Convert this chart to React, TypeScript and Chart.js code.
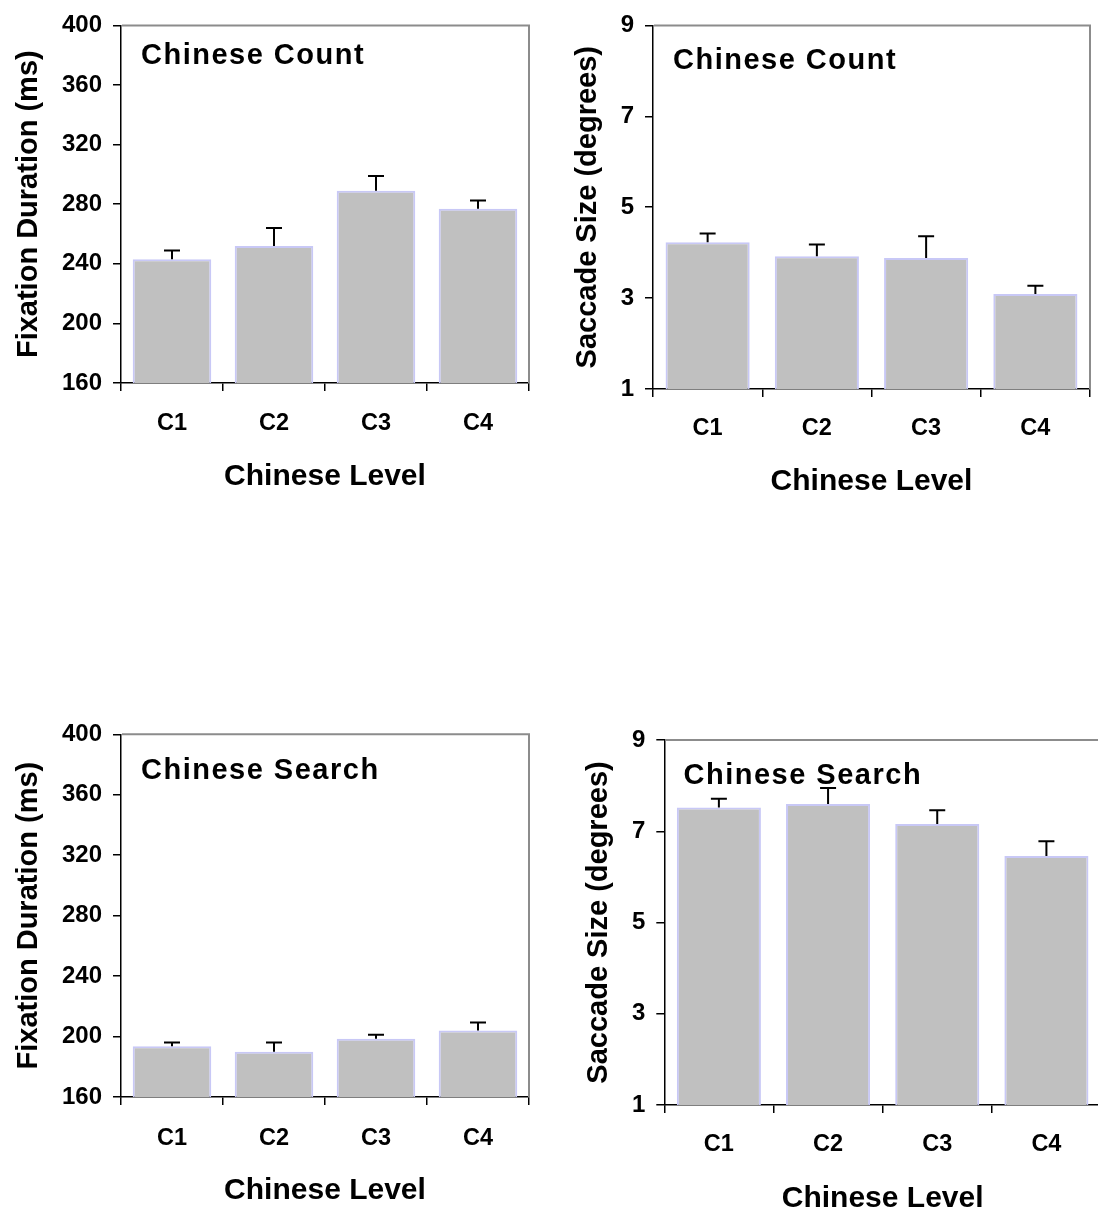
import React, { useEffect, useRef } from 'react';
import { Chart, registerables } from 'chart.js';

Chart.register(...registerables);

// ---------- data ----------
const categories = ['C1', 'C2', 'C3', 'C4'];

const countFixation = [243, 252, 289, 277];
const countFixationErr = [6, 12, 10, 5.5];

const countSaccade = [4.23, 3.92, 3.88, 3.09];
const countSaccadeErr = [0.19, 0.26, 0.48, 0.18];

const searchFixation = [193.5, 190, 198.5, 204];
const searchFixationErr = [2.5, 6, 2.7, 5.3];

const searchSaccade = [7.52, 7.6, 7.16, 6.46];
const searchSaccadeErr = [0.19, 0.35, 0.3, 0.32];

const fixationRange = { min: 160, max: 400, step: 40 };
const saccadeRange = { min: 1, max: 9, step: 2 };

const xAxisTitle = 'Chinese Level';
const fixationTitle = 'Fixation Duration (ms)';
const saccadeTitle = 'Saccade Size (degrees)';

// ---------- layout / style ----------
const FONT = "'Liberation Sans', Arial, Helvetica, sans-serif";

type Panel = {
  title: string;
  yTitle: string;
  values: number[];
  errors: number[];
  range: { min: number; max: number; step: number };
  canvas: { x: number; y: number; w: number; h: number };
  area: { left: number; top: number; right: number; bottom: number };
  xLabelCy: number;
  xTitleCy: number;
  yTitleCx: number;
  inner: { x: number; cy: number };
};

const panels: Panel[] = [
  {
    title: 'Chinese Count', yTitle: fixationTitle, values: countFixation, errors: countFixationErr, range: fixationRange,
    canvas: { x: 0, y: 0, w: 549, h: 600 },
    area: { left: 121, top: 20, right: 529, bottom: 383 },
    xLabelCy: 424, xTitleCy: 476.5, yTitleCx: 29, inner: { x: 141, cy: 56 },
  },
  {
    title: 'Chinese Count', yTitle: saccadeTitle, values: countSaccade, errors: countSaccadeErr, range: saccadeRange,
    canvas: { x: 549, y: 0, w: 549, h: 600 },
    area: { left: 104, top: 24, right: 541, bottom: 389 },
    xLabelCy: 428.5, xTitleCy: 482, yTitleCx: 39, inner: { x: 124, cy: 61 },
  },
  {
    title: 'Chinese Search', yTitle: fixationTitle, values: searchFixation, errors: searchFixationErr, range: fixationRange,
    canvas: { x: 0, y: 600, w: 549, h: 609 },
    area: { left: 121, top: 134.3, right: 529, bottom: 497 },
    xLabelCy: 538.5, xTitleCy: 591, yTitleCx: 29, inner: { x: 141, cy: 171 },
  },
  {
    title: 'Chinese Search', yTitle: saccadeTitle, values: searchSaccade, errors: searchSaccadeErr, range: saccadeRange,
    canvas: { x: 549, y: 600, w: 560, h: 609 },
    area: { left: 115.3, top: 140, right: 552, bottom: 505 },
    xLabelCy: 544.5, xTitleCy: 598.5, yTitleCx: 49.6, inner: { x: 134.5, cy: 176 },
  },
];

const X_TICK_SIZE = 23.5;
const Y_TICK_SIZE = 24;
const X_TITLE_SIZE = 30;
const Y_TITLE_SIZE = 29;
const INNER_SIZE = 29;
const TICK_LEN = 8;

function PanelChart({ p }: { p: Panel }) {
  const ref = useRef<HTMLCanvasElement | null>(null);

  useEffect(() => {
    const canvas = ref.current;
    if (!canvas) return;
    const { area, canvas: cv } = p;
    const xTitleLH = X_TITLE_SIZE * 1.2;
    const xHeight = p.xTitleCy - area.bottom + xTitleLH / 2;
    const yTitleLH = Y_TITLE_SIZE * 1.2;
    const xTickLH = X_TICK_SIZE * 1.2;

    const errorBars = {
      id: 'errorBars',
      afterDatasetsDraw(chart: any) {
        const ctx = chart.ctx;
        const xs = chart.scales.x;
        const ys = chart.scales.y;
        ctx.save();
        ctx.strokeStyle = '#000';
        ctx.lineWidth = 2;
        p.values.forEach((v, i) => {
          const px = xs.getPixelForValue(i);
          const y0 = ys.getPixelForValue(v);
          const y1 = ys.getPixelForValue(v + p.errors[i]);
          ctx.beginPath();
          ctx.moveTo(px, y0);
          ctx.lineTo(px, y1);
          ctx.moveTo(px - 8, y1);
          ctx.lineTo(px + 8, y1);
          ctx.stroke();
        });
        ctx.restore();
      },
    };

    const frame = {
      id: 'frame',
      afterDraw(chart: any) {
        const { left, top, right, bottom } = chart.chartArea;
        const ctx = chart.ctx;
        ctx.save();
        ctx.strokeStyle = '#8c8c8c';
        ctx.lineWidth = 2;
        ctx.beginPath();
        ctx.moveTo(left + 1, top);
        ctx.lineTo(right, top);
        ctx.lineTo(right, bottom);
        ctx.stroke();
        ctx.restore();
      },
    };

    const innerTitle = {
      id: 'innerTitle',
      afterDraw(chart: any) {
        const ctx = chart.ctx;
        ctx.save();
        ctx.font = `bold ${INNER_SIZE}px ${FONT}`;
        try { (ctx as any).letterSpacing = '1.5px'; } catch (e) { /* ignore */ }
        ctx.fillStyle = '#000';
        ctx.textAlign = 'left';
        ctx.textBaseline = 'middle';
        ctx.fillText(p.title, p.inner.x, p.inner.cy);
        ctx.restore();
      },
    };

    const chart = new Chart(canvas, {
      type: 'bar',
      data: {
        labels: categories,
        datasets: [
          {
            data: p.values,
            backgroundColor: '#c0c0c0',
            borderColor: '#c8c8f6',
            borderWidth: 2,
            barPercentage: 0.77,
            categoryPercentage: 1,
          },
        ],
      },
      options: {
        responsive: false,
        animation: false,
        devicePixelRatio: 1,
        layout: {
          padding: {
            left: 0,
            top: area.top,
            right: cv.w - area.right,
            bottom: cv.h - area.bottom - xHeight,
          },
        },
        plugins: {
          legend: { display: false },
          tooltip: { enabled: false },
        },
        scales: {
          x: {
            type: 'category',
            offset: true,
            grid: {
              offset: true,
              drawOnChartArea: false,
              drawTicks: true,
              tickLength: TICK_LEN,
              color: '#000',
              lineWidth: 1.5,
            },
            border: { display: true, color: '#000', width: 1.5 },
            ticks: {
              color: '#000',
              padding: p.xLabelCy - area.bottom - TICK_LEN - xTickLH / 2,
              font: { family: FONT, size: X_TICK_SIZE, weight: 'bold' },
              maxRotation: 0,
              autoSkip: false,
            },
            title: {
              display: true,
              text: xAxisTitle,
              color: '#000',
              font: { family: FONT, size: X_TITLE_SIZE, weight: 'bold' },
              padding: { top: 0, bottom: 0 },
            },
            afterFit(s: any) {
              s.height = xHeight;
            },
          },
          y: {
            type: 'linear',
            min: p.range.min,
            max: p.range.max,
            ticks: {
              stepSize: p.range.step,
              color: '#000',
              padding: 11,
              font: { family: FONT, size: Y_TICK_SIZE, weight: 'bold' },
            },
            grid: {
              drawOnChartArea: false,
              drawTicks: true,
              tickLength: TICK_LEN,
              color: '#000',
              lineWidth: 1.5,
            },
            border: { display: true, color: '#000', width: 1.5 },
            title: {
              display: true,
              text: p.yTitle,
              color: '#000',
              font: { family: FONT, size: Y_TITLE_SIZE, weight: 'bold' },
              padding: p.yTitleCx - yTitleLH / 2,
            },
            afterFit(s: any) {
              s.width = area.left;
            },
          },
        },
      } as any,
      plugins: [errorBars, frame, innerTitle],
    });

    return () => chart.destroy();
  }, [p]);

  return (
    <canvas
      ref={ref}
      width={p.canvas.w}
      height={p.canvas.h}
      style={{
        position: 'absolute',
        left: p.canvas.x,
        top: p.canvas.y,
        width: p.canvas.w,
        height: p.canvas.h,
      }}
    />
  );
}

export default function App() {
  useEffect(() => {
    document.body.style.margin = '0';
    document.body.style.background = '#fff';
  }, []);
  return (
    <div
      style={{
        position: 'relative',
        width: 1098,
        height: 1209,
        overflow: 'hidden',
        background: '#fff',
      }}
    >
      {panels.map((p, i) => (
        <PanelChart key={i} p={p} />
      ))}
    </div>
  );
}
